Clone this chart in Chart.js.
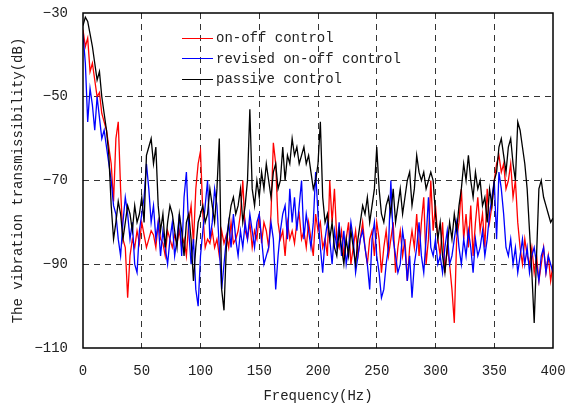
<!DOCTYPE html>
<html>
<head>
<meta charset="utf-8">
<script src="https://cdn.jsdelivr.net/npm/chart.js@4/dist/chart.umd.min.js"></script>
<style>
  html,body{margin:0;padding:0;background:#fff}
  #wrap{position:relative;width:566px;height:408px}
  #legend{position:absolute;left:182px;top:28px;font:14px "Liberation Mono",monospace;color:#222}
  #legend .row{height:20.5px;display:flex;align-items:center}
  #legend .sw{width:31px;height:0;border-top:1.5px solid;margin-right:3px}
</style>
</head>
<body>
<div id="wrap">
  <canvas id="ch1" width="566" height="408"></canvas>
  <div id="legend"></div>
</div>
<script>
// frequency bins: 0..400 Hz, every 2 Hz
const STEP_HZ = 2;
const X_TICKS = [0,50,100,150,200,250,300,350,400];
const Y_TICKS = [-110,-90,-70,-50,-30];
const SERIES_NAMES = ['on-off control','revised on-off control','passive control'];
const SERIES_COLORS = ['#ff0000','#0000ff','#000000'];

// transmissibility (dB), one value per bin
const onOff = [
  -34,-38,-36,-44,-42,-46,-50,-49,-54,-56,
  -58,-62,-66,-75,-60,-56,-72,-84,-86,-98,
  -88,-84,-86,-82,-85,-80,-83,-86,-84,-82,
  -83,-86,-80,-84,-85,-88,-82,-84,-86,-83,
  -85,-82,-86,-84,-88,-80,-76,-85,-72,-66,
  -63,-78,-86,-84,-85,-82,-86,-84,-88,-82,
  -85,-83,-86,-80,-85,-84,-82,-78,-70,-82,
  -84,-80,-86,-82,-84,-78,-85,-80,-82,-86,
  -78,-61,-66,-80,-84,-82,-88,-80,-84,-82,
  -85,-80,-78,-84,-82,-86,-80,-84,-88,-78,
  -82,-80,-86,-84,-88,-70,-80,-72,-84,-86,
  -82,-88,-84,-80,-90,-86,-82,-88,-84,-80,
  -86,-90,-84,-82,-88,-80,-84,-92,-86,-82,
  -88,-84,-80,-92,-86,-82,-88,-84,-94,-86,
  -82,-86,-78,-88,-80,-74,-90,-84,-70,-82,
  -76,-84,-88,-80,-92,-86,-90,-96,-104,-84,
  -80,-72,-84,-78,-86,-76,-88,-80,-74,-82,
  -78,-86,-72,-80,-76,-70,-66,-64,-68,-66,
  -72,-70,-66,-74,-70,-80,-86,-90,-84,-88,
  -90,-86,-92,-88,-94,-90,-86,-92,-88,-94,
  -90
];
const revised = [
  -35,-42,-56,-48,-52,-58,-50,-55,-60,-58,
  -62,-66,-70,-76,-78,-84,-88,-80,-74,-78,
  -84,-80,-90,-92,-82,-78,-74,-66,-72,-80,
  -76,-84,-80,-88,-82,-86,-90,-84,-80,-88,
  -84,-78,-88,-74,-68,-82,-90,-84,-96,-100,
  -88,-82,-76,-70,-84,-80,-72,-76,-86,-96,
  -90,-84,-80,-86,-78,-84,-88,-82,-86,-80,
  -84,-78,-82,-86,-80,-78,-84,-90,-88,-86,
  -80,-84,-96,-88,-82,-78,-76,-84,-72,-80,
  -74,-82,-76,-70,-84,-78,-82,-86,-80,-68,
  -78,-86,-92,-84,-80,-84,-90,-82,-86,-80,
  -88,-82,-90,-86,-80,-84,-92,-88,-84,-82,
  -86,-90,-96,-84,-80,-88,-92,-98,-96,-90,
  -86,-70,-84,-88,-92,-90,-82,-86,-94,-88,
  -98,-90,-86,-80,-88,-92,-84,-74,-86,-88,
  -84,-90,-88,-92,-86,-82,-90,-88,-84,-80,
  -86,-90,-84,-88,-82,-86,-92,-84,-88,-86,
  -82,-88,-84,-78,-74,-70,-84,-68,-72,-78,
  -86,-88,-84,-90,-86,-92,-88,-84,-90,-86,
  -92,-88,-86,-90,-94,-88,-86,-92,-88,-90,
  -92
];
const passive = [
  -33,-31,-32,-35,-38,-42,-46,-44,-50,-54,
  -58,-64,-76,-84,-80,-75,-78,-84,-80,-76,
  -78,-82,-76,-80,-78,-74,-80,-64,-62,-60,
  -66,-62,-76,-82,-78,-86,-80,-76,-78,-82,
  -86,-78,-82,-88,-80,-78,-84,-94,-86,-80,
  -78,-76,-80,-78,-72,-76,-80,-72,-60,-96,
  -101,-86,-80,-76,-74,-78,-76,-72,-80,-76,
  -70,-53,-72,-76,-70,-74,-68,-72,-66,-70,
  -74,-68,-66,-72,-70,-62,-70,-64,-66,-60,
  -64,-62,-66,-64,-62,-66,-64,-68,-72,-70,
  -66,-56,-74,-80,-78,-84,-80,-86,-88,-82,
  -86,-90,-84,-88,-82,-86,-90,-84,-80,-76,
  -78,-74,-80,-76,-72,-62,-72,-78,-80,-76,
  -74,-78,-72,-80,-76,-72,-78,-74,-70,-68,
  -76,-72,-64,-68,-70,-68,-72,-70,-68,-70,
  -78,-84,-80,-88,-92,-86,-80,-84,-78,-82,
  -76,-72,-66,-70,-64,-70,-74,-68,-72,-70,
  -76,-74,-80,-72,-76,-70,-68,-62,-60,-64,
  -68,-62,-60,-66,-70,-56,-58,-62,-66,-72,
  -82,-92,-104,-88,-72,-70,-74,-76,-78,-80,
  -79
];

const FONT = '"Liberation Mono", monospace';
const toPts = arr => arr.map((y,i)=>({x:i*STEP_HZ, y}));
const fmtNeg = v => v<0 ? '\u2212'+Math.abs(v) : String(v);

const frame = {
  id:'frame',
  afterDraw(c){
    const {ctx, chartArea:a} = c;
    ctx.save();
    ctx.strokeStyle = '#000';
    ctx.lineWidth = 1.5;
    ctx.strokeRect(a.left, a.top, a.right-a.left, a.bottom-a.top);
    ctx.restore();
  }
};

const gridColor = edges => ctx => edges.includes(ctx.tick && ctx.tick.value) ? 'rgba(0,0,0,0)' : '#333';

const lineDs = (k, data, order) => ({
  label: SERIES_NAMES[k],
  data: toPts(data),
  borderColor: SERIES_COLORS[k],
  backgroundColor: SERIES_COLORS[k],
  borderWidth: 1.3,
  pointRadius: 0,
  tension: 0,
  fill: false,
  order
});

new Chart(document.getElementById('ch1'), {
  type:'line',
  data:{datasets:[
    lineDs(2, passive, 0),
    lineDs(1, revised, 1),
    lineDs(0, onOff, 2)
  ]},
  options:{
    responsive:false,
    animation:false,
    devicePixelRatio:1,
    layout:{padding:{left:0,right:13,top:13,bottom:0}},
    plugins:{legend:{display:false},tooltip:{enabled:false}},
    scales:{
      x:{
        type:'linear', min:0, max:400,
        afterBuildTicks: s => { s.ticks = X_TICKS.map(v=>({value:v})); },
        afterFit: s => { s.height = 60; s.paddingLeft = 0; s.paddingRight = 0; },
        ticks:{color:'#222', padding:15, font:{family:FONT,size:14}, maxRotation:0},
        grid:{color:gridColor([0,400]), borderDash:[6,5], lineWidth:1, drawTicks:false},
        border:{display:false, dash:[6,5]},
        title:{display:true, text:'Frequency(Hz)', color:'#222', font:{family:FONT,size:14}, padding:{top:0,bottom:3}}
      },
      y:{
        type:'linear', min:-110, max:-30,
        afterBuildTicks: s => { s.ticks = Y_TICKS.map(v=>({value:v})); },
        afterFit: s => { s.width = 83; s.paddingTop = 0; s.paddingBottom = 0; },
        ticks:{color:'#222', padding:15, font:{family:FONT,size:14}, callback: v => fmtNeg(v)},
        grid:{color:gridColor([-110,-30]), lineWidth:1, drawTicks:false},
        border:{display:false, dash:[6,5]},
        title:{display:true, text:'The vibration transmissibility(dB)', color:'#222', font:{family:FONT,size:14}, padding:{top:10,bottom:0}}
      }
    }
  },
  plugins:[frame]
});

// legend, drawn as html in the order of the reference
document.getElementById('legend').innerHTML = SERIES_NAMES.map((n,i)=>
  `<div class="row"><span class="sw" style="border-color:${SERIES_COLORS[i]}"></span>${n}</div>`
).join('');
</script>
</body>
</html>
